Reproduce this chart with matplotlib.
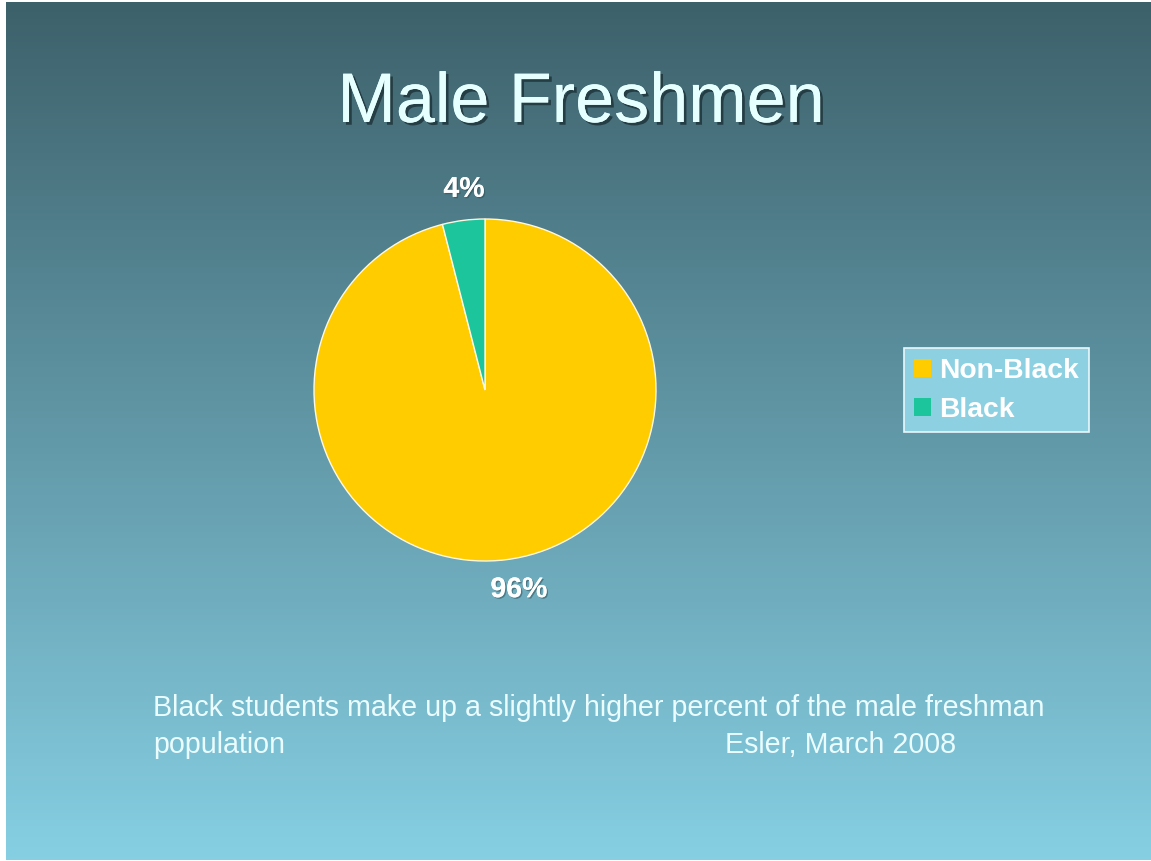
import numpy as np
import matplotlib
matplotlib.use("Agg")
import matplotlib.pyplot as plt
import matplotlib.patheffects as pe
from matplotlib.patches import Patch

# chart data
categories = ["Non-Black", "Black"]
values = [96, 4]
colors = ["#ffcc00", "#1cc59b"]

title = "Male Freshmen"
note_line1 = "Black students make up a slightly higher percent of the male freshman"
note_line2 = "population"
credit = "Esler, March 2008"

W, H = 1151, 861
plt.rcParams["font.family"] = ["Liberation Sans", "DejaVu Sans"]

fig = plt.figure(figsize=(W / 100, H / 100), dpi=100)
fig.patch.set_facecolor("white")

# slide background: vertical gradient dark teal -> light blue
bg = fig.add_axes([6 / W, 1 / H, 1 - 6 / W, 1 - 3 / H])
top = np.array([61, 97, 107]) / 255
bot = np.array([134, 207, 227]) / 255
t = np.linspace(0, 1, 256)[:, None]
grad = top[None, :] * (1 - t) + bot[None, :] * t
bg.imshow(grad[:, None, :], aspect="auto", extent=[0, 1, 0, 1])
bg.set_axis_off()

shadow = [pe.withSimplePatchShadow(offset=(2, -2), shadow_rgbFace="#1d3238", alpha=0.8), pe.Normal()]
fig.text(581 / W, 1 - 104 / H, title, ha="center", va="center", fontsize=50.5,
         color="#e6ffff", path_effects=shadow)

# pie
cx, cy, r = 485, 390, 171
ax = fig.add_axes([(cx - r) / W, (H - cy - r) / H, 2 * r / W, 2 * r / H])
wedges, _ = ax.pie(values, colors=colors, startangle=90, counterclock=False,
                   wedgeprops=dict(edgecolor="#fff8e0", linewidth=1.0))
ax.set_xlim(-1, 1)
ax.set_ylim(-1, 1)
ax.set_aspect("equal")
ax.set_axis_off()

# percentage labels just outside each wedge
label_shadow = [pe.withSimplePatchShadow(offset=(1, -1), shadow_rgbFace="#2a4a52", alpha=0.5), pe.Normal()]
for w, v in zip(wedges, values):
    mid = np.deg2rad((w.theta1 + w.theta2) / 2)
    lx = 1.18 * np.cos(mid) + 0.025 + 0.025 * (np.cos(mid) > 0)
    ly = 1.18 * np.sin(mid)
    ax.text(lx, ly, f"{v}%", ha="center", va="center", color="white",
            fontsize=20.5, fontweight="bold", path_effects=label_shadow, clip_on=False)

# legend
handles = [Patch(facecolor=c, edgecolor="none") for c in colors]
leg = fig.legend(handles, categories, loc="upper left",
                 bbox_to_anchor=(904 / W, 1 - 348 / H), frameon=True, fancybox=False,
                 handlelength=0.6, handleheight=0.6, handletextpad=0.3,
                 borderpad=0.35, labelspacing=0.45, borderaxespad=0,
                 prop=dict(size=20.3, weight="bold"))
for txt in leg.get_texts():
    txt.set_color("white")
frame = leg.get_frame()
frame.set_facecolor("#8dd0e1")
frame.set_edgecolor("#e8f8fc")
frame.set_linewidth(1.2)
frame.set_alpha(1)

# footnote
note_kw = dict(fontsize=20.6, color="#eafcff", va="center", ha="left")
fig.text(153 / W, 1 - 708 / H, note_line1, **note_kw)
fig.text(153 / W, 1 - 745 / H, note_line2, **note_kw)
fig.text(725 / W, 1 - 745 / H, credit, **note_kw)

fig.savefig("out.png", dpi=100)
